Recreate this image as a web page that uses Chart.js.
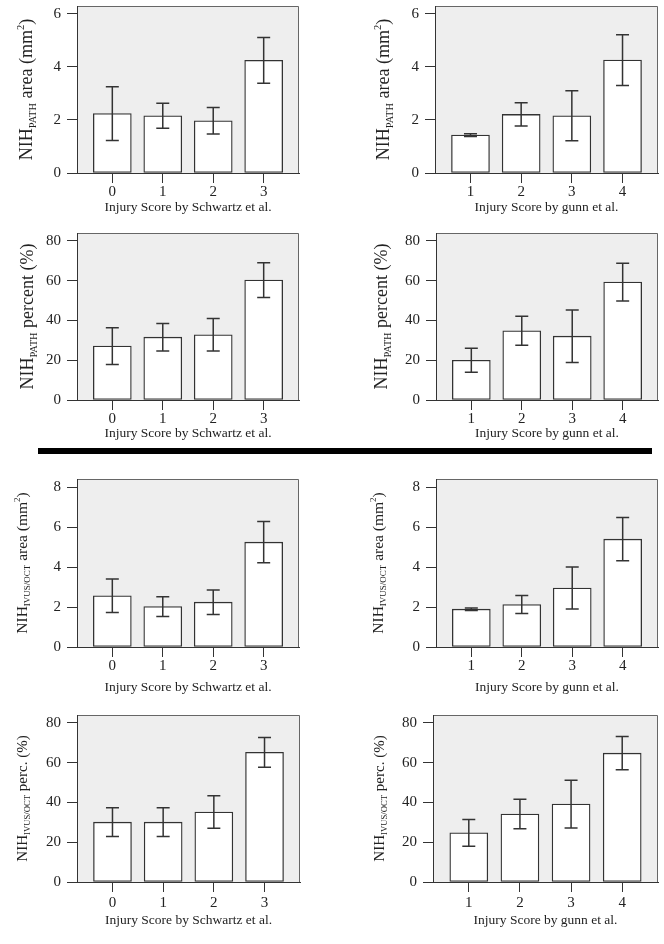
<!DOCTYPE html>
<html>
<head>
<meta charset="utf-8">
<script src="https://cdn.jsdelivr.net/npm/chart.js@4.4.1/dist/chart.umd.min.js"></script>
<style>
  html, body { margin: 0; padding: 0; background: #fff; }
  #wrap { position: relative; width: 664px; height: 944px; overflow: hidden; }
  #wrap canvas { position: absolute; }
  #rule { position: absolute; left: 38px; top: 448px; width: 614px; height: 6px; background: #000; }
</style>
</head>
<body>
<div id="wrap">
  <canvas id="p1"></canvas>
  <canvas id="p2"></canvas>
  <canvas id="p3"></canvas>
  <canvas id="p4"></canvas>
  <div id="rule"></div>
  <canvas id="p5"></canvas>
  <canvas id="p6"></canvas>
  <canvas id="p7"></canvas>
  <canvas id="p8"></canvas>
</div>
<script>
// categories (injury scores)
const schwartzScores = [0, 1, 2, 3]
const gunnScores = [1, 2, 3, 4]

// NIH by pathology, area (mm2)
const pathAreaSchwartz = [2.24, 2.16, 1.97, 4.25]
const pathAreaSchwartzErr = [1.01, 0.47, 0.50, 0.86]
const pathAreaGunn = [1.43, 2.21, 2.16, 4.26]
const pathAreaGunnErr = [0.05, 0.44, 0.94, 0.96]

// NIH by pathology, percent
const pathPctSchwartz = [27.1, 31.6, 32.8, 60.3]
const pathPctSchwartzErr = [9.2, 6.9, 8.2, 8.7]
const pathPctGunn = [20.0, 34.8, 32.1, 59.3]
const pathPctGunnErr = [6.0, 7.3, 13.2, 9.5]

// NIH by IVUS/OCT, area (mm2)
const ivusAreaSchwartz = [2.56, 2.02, 2.24, 5.24]
const ivusAreaSchwartzErr = [0.84, 0.49, 0.61, 1.03]
const ivusAreaGunn = [1.89, 2.12, 2.95, 5.39]
const ivusAreaGunnErr = [0.06, 0.45, 1.05, 1.08]

// NIH by IVUS/OCT, percent
const ivusPctSchwartz = [30.1, 30.1, 35.2, 65.2]
const ivusPctSchwartzErr = [7.2, 7.2, 8.2, 7.5]
const ivusPctGunn = [24.7, 34.2, 39.2, 64.8]
const ivusPctGunnErr = [6.7, 7.4, 12.0, 8.4]

// y tick labels
const areaTicks6 = [0, 2, 4, 6]
const areaTicks8 = [0, 2, 4, 6, 8]
const pctTicks = [0, 20, 40, 60, 80]

// axis titles
const schwartzTitle = 'Injury Score by Schwartz et al.'
const gunnTitle = 'Injury Score by gunn et al.'
const pathAreaTitle = [['NIH', 'n'], ['PATH', 'sub'], [' area (mm', 'n'], ['2', 'sup'], [')', 'n']]
const pathPctTitle = [['NIH', 'n'], ['PATH', 'sub'], [' percent (%)', 'n']]
const ivusAreaTitle = [['NIH', 'n'], ['IVUS/OCT', 'sub'], [' area (mm', 'n'], ['2', 'sup'], [')', 'n']]
const ivusPctTitle = [['NIH', 'n'], ['IVUS/OCT', 'sub'], [' perc. (%)', 'n']]

const SERIF = '"Liberation Serif", "DejaVu Serif", serif'
const INK = '#333'

// grey plot background + thin frame on top/right
const frame = {
  id: 'frame',
  beforeDraw(chart) {
    const { ctx, chartArea: a } = chart
    ctx.save()
    ctx.fillStyle = '#eeeeee'
    ctx.fillRect(a.left, a.top, a.right - a.left, a.bottom - a.top)
    ctx.strokeStyle = '#666'
    ctx.lineWidth = 1
    ctx.beginPath()
    ctx.moveTo(a.left, a.top + 0.5)
    ctx.lineTo(a.right - 0.5, a.top + 0.5)
    ctx.lineTo(a.right - 0.5, a.bottom)
    ctx.stroke()
    ctx.restore()
  }
}

// mean +/- error whiskers, positioned with the chart's own scales
const errorBars = {
  id: 'errorBars',
  afterDatasetsDraw(chart) {
    const { ctx } = chart
    const y = chart.scales.y
    const ds = chart.data.datasets[0]
    const meta = chart.getDatasetMeta(0)
    ctx.save()
    ctx.strokeStyle = INK
    ctx.lineWidth = 1.5
    meta.data.forEach((bar, i) => {
      const v = ds.data[i].y
      const e = ds.errs[i]
      const top = y.getPixelForValue(v + e)
      const bot = y.getPixelForValue(v - e)
      ctx.beginPath()
      ctx.moveTo(bar.x, top); ctx.lineTo(bar.x, bot)
      ctx.moveTo(bar.x - 6.5, top); ctx.lineTo(bar.x + 6.5, top)
      ctx.moveTo(bar.x - 6.5, bot); ctx.lineTo(bar.x + 6.5, bot)
      ctx.stroke()
    })
    ctx.restore()
  }
}

// rotated y title with subscript / superscript parts
const yTitle = {
  id: 'yTitle',
  afterDraw(chart, args, opts) {
    const { ctx, chartArea: a } = chart
    const F = opts.size
    const fontFor = k => (k === 'n' ? F : F * 0.58) + 'px ' + SERIF
    ctx.save()
    let total = 0
    opts.parts.forEach(([t, k]) => { ctx.font = fontFor(k); total += ctx.measureText(t).width })
    ctx.translate(opts.x, (a.top + a.bottom) / 2)
    ctx.rotate(-Math.PI / 2)
    ctx.fillStyle = '#222'
    ctx.textBaseline = 'alphabetic'
    let cx = -total / 2
    opts.parts.forEach(([t, k]) => {
      ctx.font = fontFor(k)
      const dy = k === 'sub' ? F * 0.2 : (k === 'sup' ? -F * 0.45 : 0)
      ctx.fillText(t, cx, dy)
      cx += ctx.measureText(t).width
    })
    ctx.restore()
  }
}

function makePanel(p) {
  const cv = document.getElementById(p.id)
  cv.width = p.w
  cv.height = p.h
  cv.style.left = p.x + 'px'
  cv.style.top = p.y + 'px'
  const axisGrid = { drawOnChartArea: false, drawTicks: true, tickLength: 10, color: INK, lineWidth: 1, offset: false }
  const axisBorder = { display: true, color: INK, width: 1 }
  return new Chart(cv, {
    type: 'bar',
    data: {
      datasets: [{
        data: p.cats.map((c, i) => ({ x: c, y: p.vals[i] })),
        errs: p.errs,
        backgroundColor: '#ffffff',
        borderColor: INK,
        borderWidth: 1.3,
        borderSkipped: false,
        barThickness: 38
      }]
    },
    options: {
      responsive: false,
      animation: false,
      devicePixelRatio: 1,
      layout: { padding: { left: 0, top: p.top, right: p.w - p.right, bottom: 0 } },
      plugins: {
        legend: { display: false },
        tooltip: { enabled: false },
        yTitle: { parts: p.yTitle, size: p.yFont, x: p.titleX }
      },
      scales: {
        x: {
          type: 'linear',
          bounds: 'data',
          offset: false,
          min: p.cats[0] - 0.7,
          max: p.cats[p.cats.length - 1] + 0.7,
          afterBuildTicks: s => { s.ticks = p.cats.map(v => ({ value: v })) },
          afterFit: s => { s.height = p.h - p.bottom; s.paddingLeft = 0; s.paddingRight = 0 },
          grid: axisGrid,
          border: axisBorder,
          ticks: { color: '#222', font: { family: SERIF, size: 15 }, padding: p.tickPad, maxRotation: 0, autoSkip: false },
          title: { display: true, text: p.xTitle, color: '#222', font: { family: SERIF, size: 13.5 }, padding: { top: 0, bottom: p.titlePad } }
        },
        y: {
          min: 0,
          max: p.ymax,
          afterBuildTicks: s => { s.ticks = p.yTicks.map(v => ({ value: v })) },
          afterFit: s => { s.width = p.left; s.paddingTop = 0; s.paddingBottom = 0 },
          grid: axisGrid,
          border: axisBorder,
          ticks: { color: '#222', font: { family: SERIF, size: 15 }, padding: 6 }
        }
      }
    },
    plugins: [frame, errorBars, yTitle]
  })
}

makePanel({ id: 'p1', x: 0, y: 0, w: 332, h: 220, left: 77, right: 299, top: 6, bottom: 173,
  cats: schwartzScores, vals: pathAreaSchwartz, errs: pathAreaSchwartzErr, ymax: 6.3, yTicks: areaTicks6,
  xTitle: schwartzTitle, yTitle: pathAreaTitle, yFont: 18, titleX: 32, tickPad: 0, titlePad: 4 })
makePanel({ id: 'p2', x: 332, y: 0, w: 332, h: 220, left: 103, right: 326, top: 6, bottom: 173,
  cats: gunnScores, vals: pathAreaGunn, errs: pathAreaGunnErr, ymax: 6.3, yTicks: areaTicks6,
  xTitle: gunnTitle, yTitle: pathAreaTitle, yFont: 18, titleX: 57, tickPad: 0, titlePad: 4 })
makePanel({ id: 'p3', x: 0, y: 220, w: 332, h: 225, left: 77, right: 299, top: 13, bottom: 180,
  cats: schwartzScores, vals: pathPctSchwartz, errs: pathPctSchwartzErr, ymax: 84, yTicks: pctTicks,
  xTitle: schwartzTitle, yTitle: pathPctTitle, yFont: 18, titleX: 33, tickPad: 0, titlePad: 3 })
makePanel({ id: 'p4', x: 332, y: 220, w: 332, h: 225, left: 104, right: 326, top: 13, bottom: 180,
  cats: gunnScores, vals: pathPctGunn, errs: pathPctGunnErr, ymax: 84, yTicks: pctTicks,
  xTitle: gunnTitle, yTitle: pathPctTitle, yFont: 18, titleX: 55, tickPad: 0, titlePad: 3 })
makePanel({ id: 'p5', x: 0, y: 460, w: 332, h: 240, left: 77, right: 299, top: 19, bottom: 187,
  cats: schwartzScores, vals: ivusAreaSchwartz, errs: ivusAreaSchwartzErr, ymax: 8.4, yTicks: areaTicks8,
  xTitle: schwartzTitle, yTitle: ivusAreaTitle, yFont: 15.5, titleX: 27, tickPad: 0, titlePad: 4 })
makePanel({ id: 'p6', x: 332, y: 460, w: 332, h: 240, left: 104, right: 326, top: 19, bottom: 187,
  cats: gunnScores, vals: ivusAreaGunn, errs: ivusAreaGunnErr, ymax: 8.4, yTicks: areaTicks8,
  xTitle: gunnTitle, yTitle: ivusAreaTitle, yFont: 15.5, titleX: 51, tickPad: 0, titlePad: 4 })
makePanel({ id: 'p7', x: 0, y: 700, w: 332, h: 244, left: 77, right: 300, top: 15, bottom: 182,
  cats: schwartzScores, vals: ivusPctSchwartz, errs: ivusPctSchwartzErr, ymax: 84, yTicks: pctTicks,
  xTitle: schwartzTitle, yTitle: ivusPctTitle, yFont: 15, titleX: 27, tickPad: 2, titlePad: 15 })
makePanel({ id: 'p8', x: 332, y: 700, w: 332, h: 244, left: 101, right: 326, top: 15, bottom: 182,
  cats: gunnScores, vals: ivusPctGunn, errs: ivusPctGunnErr, ymax: 84, yTicks: pctTicks,
  xTitle: gunnTitle, yTitle: ivusPctTitle, yFont: 15, titleX: 52, tickPad: 2, titlePad: 15 })
</script>
</body>
</html>
